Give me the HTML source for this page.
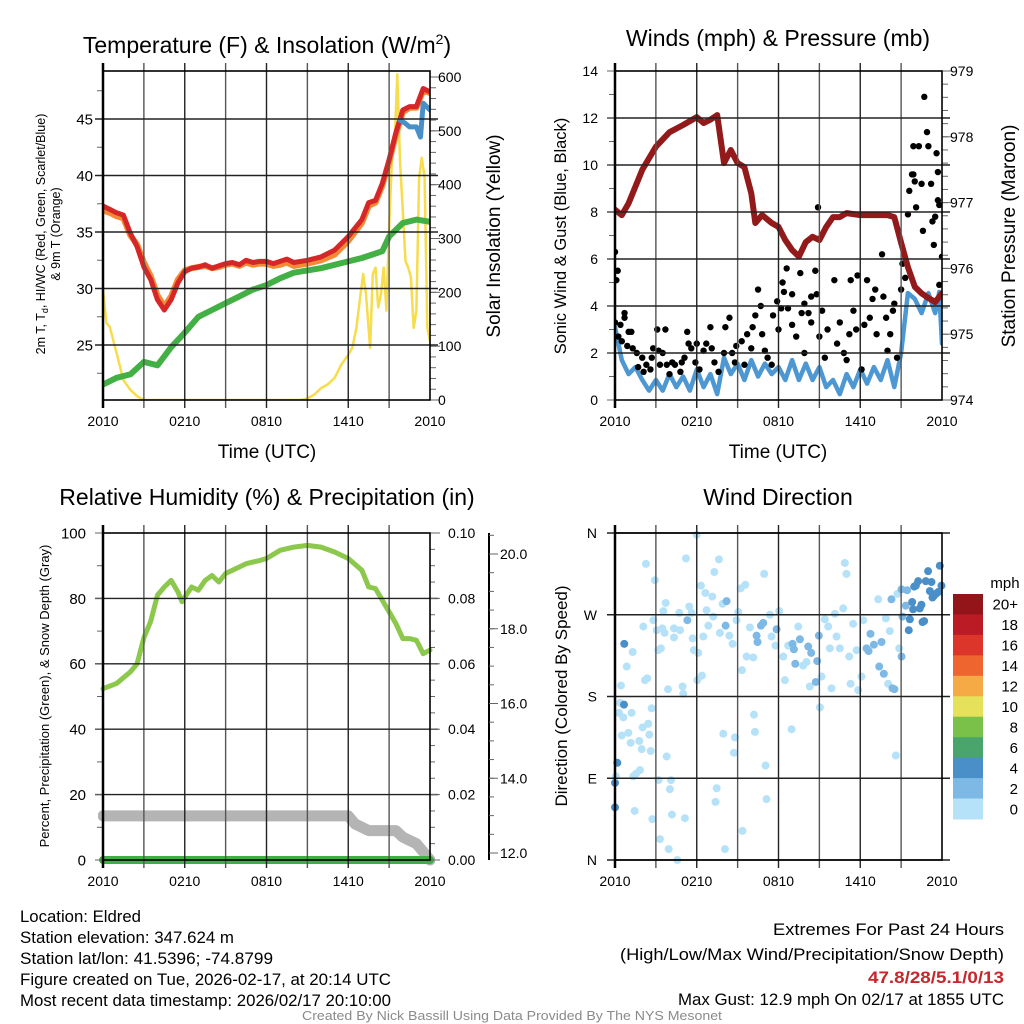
<!DOCTYPE html>
<html><head><meta charset="utf-8">
<style>
html,body{margin:0;padding:0;background:#fff;}
svg{display:block;font-family:"Liberation Sans",Arial,sans-serif;}
</style></head>
<body>
<svg id="chart" width="1024" height="1024" viewBox="0 0 1024 1024" xmlns="http://www.w3.org/2000/svg">
  <defs>
    <clipPath id="c1"><rect x="103" y="71" width="327" height="329"/></clipPath>
    <clipPath id="c2"><rect x="615" y="71" width="327" height="329"/></clipPath>
    <clipPath id="c3"><rect x="98" y="528" width="337" height="340"/></clipPath>
    <clipPath id="c4"><rect x="610" y="528" width="337" height="337"/></clipPath>
  </defs>
  <g id="panels"></g>

  <text x="267" y="53" font-size="23" text-anchor="middle">Temperature (F) &amp; Insolation (W/m<tspan font-size="14" dy="-9">2</tspan><tspan dy="9">)</tspan></text>
  <text x="778" y="46" font-size="23" text-anchor="middle">Winds (mph) &amp; Pressure (mb)</text>
  <text x="267" y="505" font-size="23" text-anchor="middle">Relative Humidity (%) &amp; Precipitation (in)</text>
  <text x="778" y="505" font-size="23" text-anchor="middle">Wind Direction</text>

  <text x="267" y="458" font-size="19" text-anchor="middle">Time (UTC)</text>
  <text x="778" y="458" font-size="19" text-anchor="middle">Time (UTC)</text>

  <text transform="translate(45,234) rotate(-90)" font-size="12.5" text-anchor="middle">2m T, T<tspan font-size="9" dy="3">d</tspan><tspan dy="-3">, HI/WC (Red, Green, Scarlet/Blue)</tspan></text>
  <text transform="translate(60,234) rotate(-90)" font-size="12.5" text-anchor="middle">&amp; 9m T (Orange)</text>
  <text transform="translate(500,236) rotate(-90)" font-size="19" text-anchor="middle">Solar Insolation (Yellow)</text>
  <text transform="translate(566,236) rotate(-90)" font-size="16.5" text-anchor="middle">Sonic Wind &amp; Gust (Blue, Black)</text>
  <text transform="translate(1015,236) rotate(-90)" font-size="19" text-anchor="middle">Station Pressure (Maroon)</text>
  <text transform="translate(49,696) rotate(-90)" font-size="13" text-anchor="middle">Percent, Precipitation (Green), &amp; Snow Depth (Gray)</text>
  <text transform="translate(567,696) rotate(-90)" font-size="17" text-anchor="middle">Direction (Colored By Speed)</text>

  <g font-size="16.5">
    <text x="20" y="922" textLength="121" lengthAdjust="spacingAndGlyphs">Location: Eldred</text>
    <text x="20" y="943" textLength="214" lengthAdjust="spacingAndGlyphs">Station elevation: 347.624 m</text>
    <text x="20" y="964" textLength="253" lengthAdjust="spacingAndGlyphs">Station lat/lon: 41.5396; -74.8799</text>
    <text x="20" y="985" textLength="371" lengthAdjust="spacingAndGlyphs">Figure created on Tue, 2026-02-17, at 20:14 UTC</text>
    <text x="20" y="1006" textLength="371" lengthAdjust="spacingAndGlyphs">Most recent data timestamp: 2026/02/17 20:10:00</text>
  </g>
  <g font-size="16.5">
    <text x="773" y="935" textLength="231" lengthAdjust="spacingAndGlyphs">Extremes For Past 24 Hours</text>
    <text x="620" y="960" textLength="384" lengthAdjust="spacingAndGlyphs">(High/Low/Max Wind/Precipitation/Snow Depth)</text>
    <text x="868" y="983" fill="#c8262c" font-weight="bold" textLength="136" lengthAdjust="spacingAndGlyphs">47.8/28/5.1/0/13</text>
    <text x="678" y="1005" textLength="326" lengthAdjust="spacingAndGlyphs">Max Gust: 12.9 mph On 02/17 at 1855 UTC</text>
  </g>
  <text x="302" y="1020" font-size="12.5" fill="#8a8a8a" textLength="420" lengthAdjust="spacingAndGlyphs">Created By Nick Bassill Using Data Provided By The NYS Mesonet</text>
</svg>
<script>
// ---------------- DATA ----------------
var tempHours = [0,0.5,1,1.5,2,2.5,3,3.5,4,4.5,5,5.5,6,6.5,7,7.5,8,8.5,9,9.5,10,10.5,11,11.5,12,12.5,13,13.5,14,15,16,17,18,19,19.5,20,20.5,21,21.5,22,22.5,23,23.5,24];
var tempRed  = [37.3,37.0,36.7,36.5,34.9,33.7,31.9,30.8,29.0,28.1,29.0,30.5,31.5,31.8,31.9,32.1,31.8,32.0,32.2,32.3,32.1,32.5,32.3,32.4,32.4,32.2,32.4,32.6,32.3,32.5,32.8,33.4,34.6,36.1,37.6,37.8,39.3,41.4,43.8,45.8,46.1,46.1,47.7,47.4];
var temp9m   = [36.9,36.7,36.4,36.2,34.7,33.9,32.3,31.1,29.4,28.4,29.3,30.8,31.6,31.8,31.9,32.0,31.8,31.9,32.1,32.2,32.0,32.3,32.1,32.2,32.2,32.0,32.1,32.3,32.0,32.2,32.5,33.0,34.2,35.8,37.3,37.6,39.1,41.2,43.6,45.6,46.0,46.0,47.5,47.3];
var chillHours = [21.8,22.2,22.5,23.0,23.3,23.5,24];
var chillVals  = [44.9,44.6,44.3,44.3,43.4,46.4,45.8];
var dewHours = [0,1,2,3,4,5,6,7,8,9,10,11,12,13,14,15,16,17,18,19,20,20.5,21,22,23,24];
var dewVals  = [21.5,22.1,22.4,23.5,23.2,24.8,26.1,27.5,28.1,28.7,29.3,29.9,30.3,30.9,31.4,31.6,31.8,32.1,32.4,32.7,33.1,33.3,34.6,35.8,36.1,35.9];
var solHours = [0,0.25,0.5,1,1.5,2,2.5,3,14.5,15,15.5,16,16.5,17,17.5,18,18.3,18.6,18.9,19.1,19.3,19.6,19.8,20.0,20.2,20.4,20.6,20.8,21.0,21.2,21.4,21.6,21.8,22.0,22.2,22.4,22.6,22.8,23.0,23.2,23.4,23.6,23.8,24];
var solVals  = [204,143,136,87,37,19,7,0,0,3,10,22,29,41,66,84,97,134,196,234,196,97,234,246,172,196,246,166,320,444,475,605,444,351,258,246,228,134,166,413,450,413,134,109];
var tempTicks = [25,30,35,40,45];
var solTicks = [0,100,200,300,400,500,600];
var timeLabels = ["2010","0210","0810","1410","2010"];

var presHours = [0,0.5,1,2,3,4,5,6,6.5,7,7.5,8,8.5,9,9.5,10,10.3,10.8,11.5,12,12.5,13,13.5,14,14.5,15,15.5,16,16.5,17,18,19,20,20.5,21,21.5,22,22.5,23,23.5,24];
var presVals  = [976.89,976.81,976.99,977.50,977.85,978.07,978.18,978.30,978.21,978.26,978.33,977.60,977.80,977.60,977.54,977.14,976.69,976.81,976.69,976.63,976.43,976.28,976.18,976.40,976.48,976.43,976.63,976.78,976.78,976.84,976.81,976.81,976.81,976.78,976.39,976.02,975.72,975.62,975.55,975.49,975.62];
var windHours = [0,0.5,1,1.5,2,2.5,3,3.5,4,4.5,5,5.5,6,6.5,7,7.5,8,8.5,9,9.5,10,10.5,11,11.5,12,12.5,13,13.5,14,14.5,15,15.5,16,16.5,17,17.5,18,18.5,19,19.5,20,20.5,21,21.5,22,22.5,23,23.5,23.8,24];
var windVals  = [3.1,1.7,1.1,1.4,0.85,0.4,0.85,0.4,1.1,0.55,1.0,0.4,1.3,0.55,1.1,0.25,1.8,1.1,1.55,0.85,1.7,1.0,1.55,1.1,1.4,0.85,1.7,0.85,1.55,0.85,1.4,0.55,0.85,0.25,1.1,0.55,1.3,0.7,1.4,0.85,1.7,0.55,2.0,4.55,4.3,3.7,4.55,3.7,4.6,2.4];
var gustHours = [0,0.2,0.1,0,0.4,0.7,0.7,0.25,0.5,1,1.2,0.9,1.3,1.6,2,1.7,2.1,2.3,2.6,2.7,2.8,3.1,3.2,3.3,3.5,3.7,3.8,4,4.2,4.4,4.8,4.9,5.1,5.3,5.4,5.6,6,5.9,6.2,6.5,6.7,7,7.1,7.3,7.6,8,8.1,8.4,8.6,8.8,8.9,9.3,9.7,9.5,10,10.1,10.3,10.5,10.7,10.8,11,11.2,11.5,11.6,11.9,12,12.2,12.3,12.4,12.6,12.7,13,13,13.3,13.6,13.7,13.9,13.9,14.2,14.4,14.4,14.7,14.8,14.9,15,15.2,15.4,15.6,16.1,16.3,16.5,16.8,17,17.2,17.3,17.5,17.7,17.8,18.1,18.3,18.5,18.7,18.9,19.1,19.2,19.6,19.7,19.9,20,20.2,20.4,20.5,20.7,21,21.1,21.3,21.5,21.6,21.8,21.9,22,22.1,21.9,22.3,22.5,22.6,22.7,22.9,23,23.2,23.3,23.4,23.5,23.6,23.7,23.7,23.8,24,23.8];
var gustVals  = [6.3,5.5,5.1,3.3,3.2,3.5,3.7,2.7,2.5,2.9,2.9,2.3,2.2,2.0,1.8,1.4,1.2,1.5,1.3,1.8,2.2,3.0,2.1,1.5,2.0,3.0,1.5,1.1,1.6,1.5,1.2,1.6,1.8,2.9,2.4,2.2,2.4,1.6,1.3,2.1,2.4,3.1,2.2,1.6,1.2,2.0,3.1,3.5,2.0,1.6,2.3,2.5,2.8,1.5,2.2,3.1,3.6,4.7,4.0,2.8,2.1,1.8,1.5,3.6,4.2,3.0,3.9,5.0,4.6,5.6,3.9,3.2,4.5,2.7,5.4,3.7,4.1,2.0,3.7,4.4,3.3,5.5,4.5,8.2,2.7,3.8,1.8,3.0,5.1,2.4,3.3,2.0,1.7,2.8,5.1,3.8,3.0,5.3,1.3,3.2,5.1,3.5,4.3,4.7,2.8,6.2,4.4,3.5,2.1,2.8,3.8,4.1,1.8,4.7,5.8,5.2,7.9,8.9,9.6,9.6,9.3,8.2,10.8,10.8,9.2,7.2,12.9,11.4,10.8,9.2,7.6,6.6,7.8,10.5,9.7,8.5,8.3,6.1,4.9];
var windTicks = [0,2,4,6,8,10,12,14];
var presTicks = [974,975,976,977,978,979];

var rhHours = [0,1,2,2.5,3,3.5,4,4.5,5,5.5,5.8,6,6.5,7,7.5,8,8.5,9,9.5,10,10.5,11,11.5,12,13,14,15,16,17,18,19,19.5,20,21,21.5,22,22.5,23,23.5,24];
var rhVals  = [52.4,54,57.5,60,68,73,81,83.5,85.5,82,79,80.4,83.5,82.5,85.5,87,85,87.6,88.6,89.6,90.6,91.1,91.6,92.2,94.7,95.7,96.2,95.7,94.2,92.2,88.6,83.5,83,75.9,72.3,67.7,67.7,67.2,63.1,64.2];
var snowHours = [0,18,18.5,19.5,21.5,22,22.5,23,23.5,24];
var snowVals  = [13.5,13.5,11,9,9,7,6,5,2.5,0];
var precipHours = [0,24];
var precipVals  = [0,0];
var rhTicks = [0,20,40,60,80,100];
var precipTicks = ["0.00","0.02","0.04","0.06","0.08","0.10"];
var snowTicks = ["12.0","14.0","16.0","18.0","20.0"];

var dirHours = [0,0,0.07,0.17,0.37,0.66,0.29,0.61,0.44,0.86,1.30,0.68,0.49,0.98,1.15,1.22,1.78,1.96,2.03,2.44,2.52,2.62,2.69,2.20,2.37,1.34,1.54,1.83,1.44,2.08,2.27,2.93,2.81,3.06,3.18,3.37,3.47,3.55,3.72,3.64,3.79,3.89,3.20,4.11,4.03,4.18,3.30,2.74,3.94,4.57,4.33,4.33,4.72,4.77,4.96,5.01,5.13,5.21,5.31,5.45,5.62,5.70,5.79,5.99,6.04,6.11,6.31,6.38,6.48,6.63,6.72,6.85,7.14,7.21,7.29,7.46,7.38,7.63,7.70,7.90,7.95,8.07,8.12,8.19,8.39,8.63,8.73,8.80,8.92,9.05,9.22,9.32,9.36,9.56,9.66,9.90,10.15,10.20,10.27,10.39,10.46,10.71,10.88,10.95,11.05,11.12,11.37,11.49,11.78,11.86,12.05,12.35,12.47,12.71,12.96,13.03,13.13,13.23,13.45,13.57,13.81,14.06,14.18,14.30,14.40,14.74,14.84,14.96,15.04,15.16,15.40,15.65,15.77,15.89,16.14,16.26,16.50,16.75,16.87,16.99,17.19,17.29,17.48,17.73,17.85,18.09,18.22,18.46,18.61,18.75,19.00,19.32,19.39,19.56,19.73,19.88,20.05,20.17,20.29,20.37,20.51,20.61,20.73,20.86,21.03,21.10,21.03,21.34,21.44,21.56,21.64,21.81,21.88,21.96,22.08,22.25,22.37,22.49,22.57,22.69,22.81,22.98,23.11,23.23,23.30,23.42,23.55,23.72,23.84,23.96];
var dirDeg = [58,85,92,107,173,171,162,157,192,213,229,238,137,140,129,162,131,122,146,150,138,120,167,198,200,92,95,99,54,257,326,308,264,253,231,233,255,274,283,250,114,188,88,88,78,50,23,45,12,0,255,245,272,253,191,183,46,332,264,279,272,244,231,358,198,228,302,203,246,294,275,258,290,268,317,79,64,331,250,282,139,12,258,285,247,238,118,135,264,273,299,209,32,303,224,256,223,160,141,247,240,258,261,315,104,67,270,246,236,254,274,224,198,236,144,238,232,216,257,243,214,218,235,191,228,196,219,247,168,202,265,257,233,189,271,246,233,277,327,315,224,194,260,231,187,202,264,233,230,249,237,287,213,240,205,266,194,252,287,189,188,115,293,233,224,268,298,280,297,253,265,284,276,301,302,307,277,281,262,263,307,318,296,306,289,291,293,295,324,302];
var dirSpeed = [5,5,1,5,1,5,1,1,1,1,1,5,1,1,1,1,1,1,1,1,1,1,1,1,1,1,1,1,1,1,1,1,1,1,1,1,1,1,1,1,1,1,1,1,1,1,1,1,1,1,1,1,1,1,1,1,1,1,3,1,1,1,1,1,1,1,1,1,1,1,1,1,1,1,1,1,1,1,1,1,1,1,3,3,1,1,1,1,1,1,1,1,1,1,1,1,1,1,1,3,3,3,3,1,1,1,1,1,1,3,1,1,1,1,1,3,3,3,1,3,1,1,3,1,3,3,3,3,1,1,1,1,1,1,1,1,1,1,1,1,1,1,1,1,1,1,1,3,3,3,3,1,3,3,3,1,1,1,3,3,3,1,1,1,3,3,3,3,3,5,5,5,5,5,5,5,5,5,5,5,5,5,5,5,5,5,5,5,5,5];
var dirTickLabels = ["N","E","S","W","N"];
var speedLabels = ["0","2","4","6","8","10","12","14","16","18","20+"];
var speedColors = ["#b5e2f8","#7db9e4","#4a8fc7","#4aa56d","#7ac14a","#e6e15a","#f5aa45","#ee6530","#dc3529","#bb1b24","#941519"];

// ---------------- HELPERS ----------------
var NS = "http://www.w3.org/2000/svg";
var root = document.getElementById("panels");
function mk(tag, attrs, parent) {
  var e = document.createElementNS(NS, tag);
  for (var k in attrs) e.setAttribute(k, attrs[k]);
  (parent || root).appendChild(e);
  return e;
}
function lin(d0, d1, r0, r1) { return function (v) { return r0 + (v - d0) * (r1 - r0) / (d1 - d0); }; }
function pathFrom(xs, ys, fx, fy) {
  var d = "";
  for (var i = 0; i < xs.length; i++) d += (i ? "L" : "M") + fx(xs[i]).toFixed(1) + " " + fy(ys[i]).toFixed(1);
  return d;
}
function drawFrame(name, x0, x1, y0, y1) {
  var g = mk("g", {});
  
  
  var fx = lin(0, 24, x0, x1);
  for (var h = 3; h < 24; h += 3) {
    var l = mk("line", { x1: fx(h), x2: fx(h), y1: y0 - 8, y2: y1 + 8, stroke: (h % 6 ? "#555" : "#222"), "stroke-width": 1.4 }, g);
    
    
  }
  for (var i = 0; i < timeLabels.length; i++) {
    var t = mk("text", { x: fx(i * 6), y: y1 + 26, "font-size": 14, "text-anchor": "middle" }, g);
    t.textContent = timeLabels[i];
    
    
  }
  return g;
}
function drawBox(g, x0, x1, y0, y1, name) {
  var r = mk("rect", { x: x0, y: y0, width: x1 - x0, height: y1 - y0, fill: "none", stroke: "#000", "stroke-width": 1.6 }, g);
  
  
  var a = mk("line", { x1: x0, x2: x0, y1: y0 - 8, y2: y1 + 8, stroke: "#000", "stroke-width": 2.5 }, g);
  
  
}
function hGrid(g, ticks, fy, x0, x1, name) {
  for (var i = 0; i < ticks.length; i++) {
    var y = fy(ticks[i]);
    var l = mk("line", { x1: x0 - 8, x2: x1 + 8, y1: y, y2: y, stroke: "#222", "stroke-width": 1.4 }, g);
    
    
  }
}
function tickLabels(g, vals, labels, fy, x, anchor, size, name) {
  for (var i = 0; i < vals.length; i++) {
    var t = mk("text", { x: x, y: fy(vals[i]) + size * 0.36, "font-size": size, "text-anchor": anchor }, g);
    t.textContent = labels[i];
    
    
  }
}
function minorTicks(g, from, to, step, fy, x, dir, len, name) {
  for (var v = from; v <= to + 1e-9; v += step) {
    var y = fy(v);
    var l = mk("line", { x1: x, x2: x + dir * len, y1: y, y2: y, stroke: "#666", "stroke-width": 1 }, g);
    
    
  }
}

// ---------------- PANEL 1 ----------------
(function () {
  var x0 = 103, x1 = 430, y0 = 71, y1 = 400;
  var fx = lin(0, 24, x0, x1), fy = lin(25, 45, 345, 119), fs = lin(0, 600, 400, 77);
  var g = drawFrame("temperature", x0, x1, y0, y1);
  hGrid(g, tempTicks, fy, x0, x1, "temperature");
  minorTicks(g, 22.5, 47.5, 5, fy, x0, -1, 6, "temperature-left");
  minorTicks(g, 0, 600, 20, fs, x1, 1, 6, "insolation-right");
  minorTicks(g, 0, 600, 100, fs, x1, 1, 10, "insolation-right-major");
  tickLabels(g, tempTicks, tempTicks.map(String), fy, 93, "end", 15, "temperature-left");
  tickLabels(g, solTicks, solTicks.map(String), fs, 438, "start", 14, "insolation-right");
  var c = mk("g", { "clip-path": "url(#c1)", fill: "none", "stroke-linejoin": "round", "stroke-linecap": "round" });
  var p;
  p = mk("path", { d: pathFrom(solHours, solVals, fx, fs), stroke: "#f7dc4b", "stroke-width": 2.5 }, c);
  
  
  p = mk("path", { d: pathFrom(dewHours, dewVals, fx, fy), stroke: "#43b045", "stroke-width": 6 }, c);
  
  
  p = mk("path", { d: pathFrom(tempHours, temp9m, fx, fy), stroke: "#f58a35", "stroke-width": 6 }, c);
  
  
  p = mk("path", { d: pathFrom(tempHours, tempRed, fx, fy), stroke: "#d62728", "stroke-width": 5 }, c);
  
  
  p = mk("path", { d: pathFrom(chillHours, chillVals, fx, fy), stroke: "#4a90c8", "stroke-width": 5 }, c);
  
  
  drawBox(g, x0, x1, y0, y1, "temperature");
  root.appendChild(g);
})();

// ---------------- PANEL 2 ----------------
(function () {
  var x0 = 615, x1 = 942, y0 = 71, y1 = 400;
  var fx = lin(0, 24, x0, x1), fy = lin(0, 14, 400, 71), fp = lin(974, 979, 400, 71);
  var g = drawFrame("winds", x0, x1, y0, y1);
  hGrid(g, windTicks.slice(1, 7), fy, x0, x1, "winds");
  minorTicks(g, 1, 13, 2, fy, x0, -1, 6, "winds-left");
  minorTicks(g, 0, 14, 2, fy, x0, -1, 8, "winds-left-major");
  minorTicks(g, 974, 979, 0.2, fp, x1, 1, 6, "pressure-right");
  minorTicks(g, 974, 979, 1, fp, x1, 1, 10, "pressure-right-major");
  tickLabels(g, windTicks, windTicks.map(String), fy, 598, "end", 14, "winds-left");
  tickLabels(g, presTicks, presTicks.map(String), fp, 950, "start", 14, "pressure-right");
  var c = mk("g", { "clip-path": "url(#c2)", "stroke-linejoin": "round", "stroke-linecap": "round" });
  var p = mk("path", { d: pathFrom(windHours, windVals, fx, fy), stroke: "#4d97d2", "stroke-width": 4.5, fill: "none" }, c);
  
  
  for (var i = 0; i < gustHours.length; i++) {
    var d = mk("circle", { cx: fx(gustHours[i]), cy: fy(gustVals[i]), r: 3.2, fill: "#000" }, c);
    
    
  }
  p = mk("path", { d: pathFrom(presHours, presVals, fx, fp), stroke: "#931a1a", "stroke-width": 6, fill: "none" }, c);
  
  
  drawBox(g, x0, x1, y0, y1, "winds");
  root.appendChild(g);
})();

// ---------------- PANEL 3 ----------------
(function () {
  var x0 = 103, x1 = 430, y0 = 533, y1 = 860;
  var fx = lin(0, 24, x0, x1), fy = lin(0, 100, 860, 533), fr = lin(0, 0.1, 860, 533), fs = lin(12, 20, 853, 554);
  var g = drawFrame("humidity", x0, x1, y0, y1);
  hGrid(g, rhTicks.slice(1, 5), fy, x0, x1, "humidity");
  minorTicks(g, 10, 90, 20, fy, x0, -1, 6, "humidity-left");
  minorTicks(g, 0, 100, 20, fy, x0, -1, 8, "humidity-left-major");
  minorTicks(g, 0, 0.1, 0.005, fr, x1, 1, 5, "precip-right");
  minorTicks(g, 0, 0.1, 0.02, fr, x1, 1, 10, "precip-right-major");
  tickLabels(g, rhTicks, rhTicks.map(String), fy, 86, "end", 15, "humidity-left");
  tickLabels(g, [0, 0.02, 0.04, 0.06, 0.08, 0.1], precipTicks, fr, 448, "start", 14, "precip-right");
  var sa = mk("line", { x1: 489, x2: 489, y1: 533, y2: 860, stroke: "#000", "stroke-width": 2 }, g);
  
  
  minorTicks(g, 12, 20.5, 0.5, fs, 489, 1, 5, "snow-axis");
  minorTicks(g, 12, 20, 2, fs, 489, 1, 9, "snow-axis-major");
  tickLabels(g, [12, 14, 16, 18, 20], snowTicks, fs, 500, "start", 14, "snow-axis");
  var c = mk("g", { "clip-path": "url(#c3)", fill: "none", "stroke-linejoin": "round", "stroke-linecap": "round" });
  var p = mk("path", { d: pathFrom(snowHours, snowVals, fx, fy), stroke: "#b4b4b4", "stroke-width": 11 }, c);
  
  
  p = mk("path", { d: pathFrom(precipHours, precipVals, fx, fr), stroke: "#3fae45", "stroke-width": 8 }, c);
  
  
  p = mk("path", { d: pathFrom(rhHours, rhVals, fx, fy), stroke: "#8cc84b", "stroke-width": 5 }, c);
  
  
  drawBox(g, x0, x1, y0, y1, "humidity");
  root.appendChild(g);
})();

// ---------------- PANEL 4 ----------------
(function () {
  var x0 = 615, x1 = 942, y0 = 533, y1 = 860;
  var fx = lin(0, 24, x0, x1), fy = lin(0, 360, 860, 533);
  var g = drawFrame("direction", x0, x1, y0, y1);
  var dt = [0, 90, 180, 270, 360];
  hGrid(g, dt, fy, x0, x1, "direction");
  tickLabels(g, dt, dirTickLabels, fy, 597, "end", 14, "direction-left");
  var c = mk("g", { "clip-path": "url(#c4)" });
  for (var i = 0; i < dirHours.length; i++) {
    var ci = Math.min(10, Math.floor(dirSpeed[i] / 2));
    var d = mk("circle", { cx: fx(dirHours[i]), cy: fy(dirDeg[i]), r: 4, fill: speedColors[ci] }, c);
    
    
  }
  drawBox(g, x0, x1, y0, y1, "direction");
  root.appendChild(g);
  var cb = mk("g", {});
  
  
  var bh = 225 / 11, top = 594;
  var t = mk("text", { x: 1005, y: 588, "font-size": 15, "text-anchor": "middle" }, cb);
  t.textContent = "mph";
  
  
  for (var k = 0; k < speedColors.length; k++) {
    var idx = speedColors.length - 1 - k;
    var r = mk("rect", { x: 953, y: top + k * bh, width: 30, height: bh + 0.5, fill: speedColors[idx] }, cb);
    
    
    var lb = mk("text", { x: 1018, y: top + k * bh + bh / 2 + 5.5, "font-size": 15, "text-anchor": "end" }, cb);
    lb.textContent = speedLabels[idx];
    
    
  }
})();
</script>
</body></html>
